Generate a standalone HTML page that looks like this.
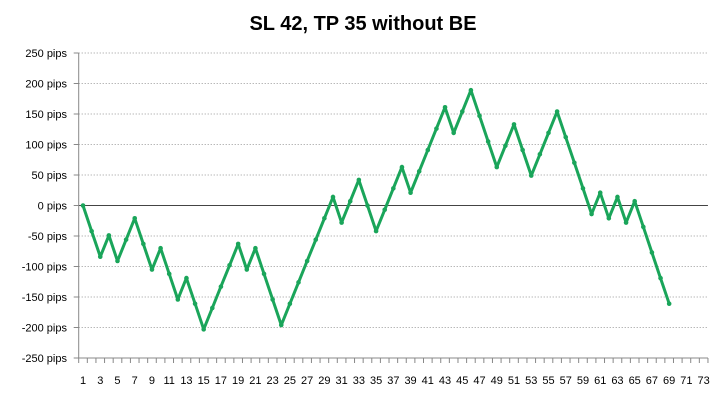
<!DOCTYPE html>
<html><head><meta charset="utf-8"><style>
body{margin:0;background:#fff;}
svg{display:block;font-family:"Liberation Sans",sans-serif;}
</style></head><body>
<svg id="c" width="726" height="400" xmlns="http://www.w3.org/2000/svg">
<rect width="726" height="400" fill="#fff"/>
<text x="363" y="30" text-anchor="middle" font-size="20" font-weight="bold" fill="#000">SL 42, TP 35 without BE</text>
<g id="g"></g>
</svg>
<script>
var ns="http://www.w3.org/2000/svg",g=document.getElementById('g');
function el(t,a,txt){var e=document.createElementNS(ns,t);for(var k in a)e.setAttribute(k,a[k]);if(txt!=null)e.textContent=txt;g.appendChild(e);return e;}
var L=78.7,W=8.62,R=L+73*W;
function Y(v){return 205.5-v*0.61;}
function X(i){return L+W*(i-0.5);}
for(var v=-250;v<=250;v+=50){
  if(v!==0 && v!==-250) el('line',{x1:L,x2:R,y1:Y(v),y2:Y(v),stroke:'#999','stroke-dasharray':'1,2','stroke-width':1});
  el('line',{x1:L-5,x2:L,y1:Y(v),y2:Y(v),stroke:'#888','stroke-width':1});
  el('text',{x:67,y:Y(v)+4,'text-anchor':'end','font-size':11,fill:'#000'},v+' pips');
}
el('line',{x1:L,x2:R,y1:Y(0),y2:Y(0),stroke:'#444','stroke-width':1});
el('line',{x1:L,x2:L,y1:Y(250),y2:Y(-250),stroke:'#888','stroke-width':1});
el('line',{x1:L,x2:R,y1:Y(-250),y2:Y(-250),stroke:'#888','stroke-width':1});
for(var i=0;i<=73;i++){var x=L+W*i;el('line',{x1:x,x2:x,y1:Y(-250),y2:Y(-250)+5,stroke:'#888','stroke-width':1});}
for(var i=1;i<=73;i+=2) el('text',{x:X(i),y:384,'text-anchor':'middle','font-size':11,fill:'#000'},i);
var s="0 - - + - + + - - + - - + - - + + + + - + - - - + + + + + + - + + - - + + + - + + + + - + + - - - + + - - + + + - - - - + - + - + - - - -".split(' ');
var vals=[],v=0;
for(var k=0;k<s.length;k++){if(s[k]=='+')v+=35;else if(s[k]=='-')v-=42;vals.push(v);}
var pts=vals.map(function(v,i){return X(i+1).toFixed(1)+','+Y(v).toFixed(1);}).join(' ');
el('polyline',{points:pts,fill:'none',stroke:'#1aa55a','stroke-width':3,'stroke-linejoin':'round'});
vals.forEach(function(v,i){el('circle',{cx:X(i+1),cy:Y(v),r:2.3,fill:'#1aa55a'});});
</script>
</body></html>
